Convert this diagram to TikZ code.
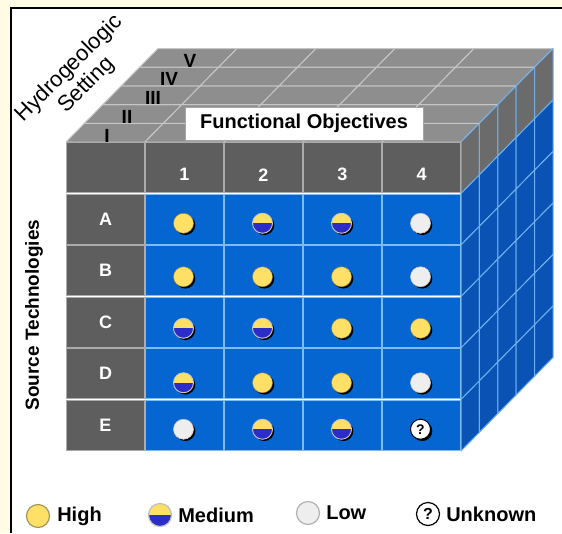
\documentclass[tikz,border=0pt]{standalone}
\usepackage{fontspec}
\setmainfont{Liberation Sans}
\usetikzlibrary{positioning,shadows}

\definecolor{paper}{HTML}{FFFCE3}
\definecolor{topgray}{HTML}{8E8E8E}
\definecolor{topline}{HTML}{C6C6C6}
\definecolor{sidegray}{HTML}{6B6B6B}
\definecolor{sideblue}{HTML}{0A52B4}
\definecolor{sideline}{HTML}{6CB0F0}
\definecolor{headgray}{HTML}{5E5E5E}
\definecolor{headline}{HTML}{ABABAB}
\definecolor{cellblue}{HTML}{0566D2}
\definecolor{cellline}{HTML}{7DBBF0}
\definecolor{dotyellow}{HTML}{FFE066}
\definecolor{dotblue}{HTML}{2C2CC8}
\definecolor{dotwhite}{HTML}{EEEEEE}

\begin{document}
\begin{tikzpicture}[
		x=1pt,y=-1pt,
		headcell/.style={
			rectangle,
			draw=headline,
			fill=headgray,
			line width=1.3pt,
			minimum width=77.5pt,
			minimum height=50pt,
			inner sep=0pt,
		},
		datacell/.style={
			headcell,
			draw=cellline,
			fill=cellblue,
		},
		topcell/.style={fill=topgray,draw=topline,line width=1pt,line join=bevel},
		sidecell/.style={fill=#1,draw=sideline,line width=1pt,line join=bevel},
		whitetxt/.style={text=white,font=\bfseries\fontsize{18}{18}\selectfont,inner sep=0pt},
		dot/.style={
			circle,
			minimum size=20pt,
			inner sep=0pt,
			drop shadow={shadow xshift=1.8pt,shadow yshift=-1.8pt,opacity=1,fill=black},
		},
		high/.style={dot,fill=dotyellow,draw=dotyellow!60!black,line width=0.4pt},
		medium/.style={dot,fill=dotyellow,draw=gray!45,line width=0.9pt,
			path picture={\fill[dotblue] (path picture bounding box.west) rectangle (path picture bounding box.south east);}},
		low/.style={dot,fill=dotwhite,draw=gray!45,line width=0.6pt},
		unknown/.style={dot,fill=white,draw=black,line width=1pt,
			label={[inner sep=0pt,font=\bfseries\fontsize{14}{14}\selectfont]center:?}},
		key/.style={circle,minimum size=23pt,inner sep=0pt,line width=1.2pt},
		keytext/.style={inner sep=0pt,font=\bfseries\fontsize{20}{20}\selectfont},
		numeral/.style={anchor=base,inner sep=0pt,font=\bfseries\fontsize{19}{19}\selectfont},
		]
		% Draw the page
		\useasboundingbox (0,0) rectangle (562,533);
		\fill[paper] (0,0) rectangle (562,533);
		\fill[white] (11,8) rectangle (562,533);
		\draw[line width=2pt] (562,7.5) -- (11,7.5) -- (11,533);
		% Draw the top face, one strip per setting
		\foreach \k in {0,...,4} {
			\foreach \j in {0,...,4} {
				\filldraw[topcell] ({66+79*\j+18.4*\k},{142-18.7*\k}) -- ++(79,0) -- ++(18.4,-18.7) -- ++(-79,0) -- cycle;
			}
			% Draw the right face
			\foreach \r/\col in {0/sidegray,1/sideblue,2/sideblue,3/sideblue,4/sideblue,5/sideblue} {
				\filldraw[sidecell=\col] ({461+18.4*\k},{142+51.5*\r-18.7*\k}) -- ++(18.4,-18.7) -- ++(0,51.5) -- ++(-18.4,18.7) -- cycle;
			}
		}
		% Draw the setting numerals
		\foreach \i/\txt/\x in {0/I/107,1/II/127,2/III/153,3/IV/169,4/V/190} {
			\node[numeral] (set\i) at (\x,{142-18.7*\i}) {\txt};
		}
		\node[align=center,rotate=45,font=\fontsize{22}{24}\selectfont] (setting) at (78,77) {Hydrogeologic\\Setting};
		% Draw the functional objectives label
		\node[draw=gray!70,line width=0.8pt,fill=white,minimum width=238pt,minimum height=33pt,
			drop shadow={shadow xshift=1.2pt,shadow yshift=-1.2pt,opacity=1,fill=gray!80!black},
			font=\bfseries\fontsize{20}{20}\selectfont] (objectives) at (304,123.5) {Functional Objectives};
		% Draw the header row
		\node[headcell] (head0) at (105.5,167.75) {};
		\foreach \c in {1,...,4} {
			\node[headcell] (head\c) at ({105.5+79*\c},167.75) {};
			\node[whitetxt] (num\c) at ([yshift=-7pt]head\c.center) {\c};
		}
		% Draw the rows
		\foreach \r [count=\n] in {A,B,C,D,E} {
			\node[headcell] (row\r) at (105.5,{167.75+51.5*\n}) {};
			\node[whitetxt] (tech\r) at (row\r) {\r};
			\foreach \c in {1,...,4} {
				\node[datacell] (cell\r\c) at ({105.5+79*\c},{167.75+51.5*\n}) {};
			}
		}
		\node[rotate=90,font=\bfseries\fontsize{19}{19}\selectfont] (source) at (34,315) {Source Technologies};
		% Draw the ratings
		\foreach \r/\lst/\off in {A/{high,medium,medium,low}/4,B/{high,high,high,low}/6,
			C/{medium,medium,high,high}/6,D/{medium,high,high,low}/9,E/{low,medium,medium,unknown}/4} {
			\foreach \lev [count=\c] in \lst {
				\node[\lev] (dot\r\c) at ([xshift=-1pt,yshift=-\off pt]cell\r\c.center) {};
			}
		}
		% Draw the legend
		\node[key,fill=dotyellow,draw=dotyellow!55!black!80] (keyHigh) at (38,516) {};
		\node[keytext,right=7pt of keyHigh] (txtHigh) {High};
		\node[key,fill=dotyellow,draw=gray!50,
			path picture={\fill[dotblue] (path picture bounding box.west) rectangle (path picture bounding box.south east);}] (keyMedium) at (160,515) {};
		\node[keytext,right=6pt of keyMedium] (txtMedium) {Medium};
		\node[key,fill=dotwhite,draw=gray!60] (keyLow) at (308,513) {};
		\node[keytext,right=6pt of keyLow] (txtLow) {Low};
		\node[key,fill=white,draw=black,font=\bfseries\fontsize{16}{16}\selectfont] (keyUnknown) at (428,514) {?};
		\node[keytext,right=6pt of keyUnknown] (txtUnknown) {Unknown};
	\end{tikzpicture}
\end{document}
